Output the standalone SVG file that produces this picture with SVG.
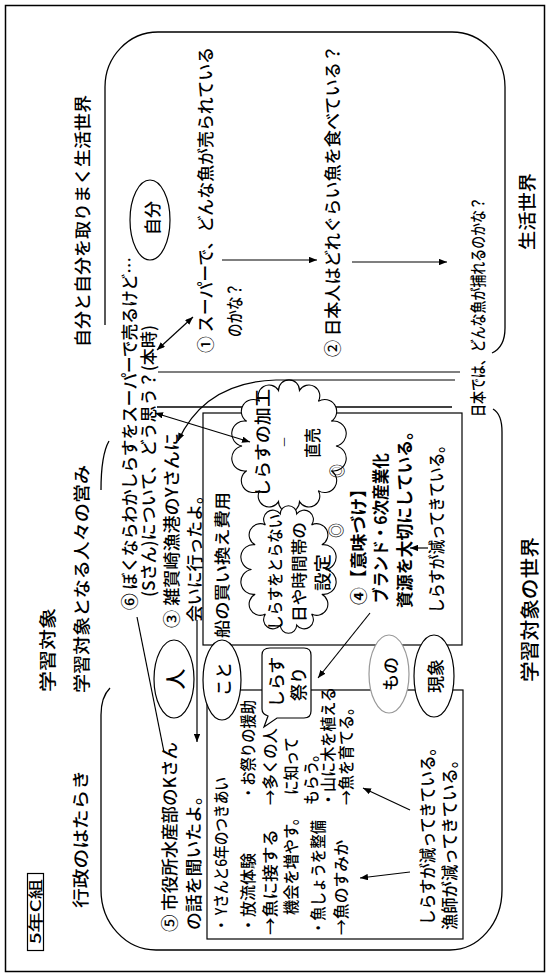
<svg xmlns="http://www.w3.org/2000/svg" width="548" height="975" viewBox="0 0 548 975">
<defs>
<style>
.t{font-family:"Noto Sans CJK JP","Noto Sans",sans-serif;font-size:17px;font-weight:500;fill:#000}
.b{font-weight:bold}
.s14{font-size:16px}
.s13{font-size:14.5px}
.s16{font-size:18px}
.s17{font-size:19px}
.s19{font-size:21px}
.c{text-anchor:middle;dominant-baseline:central}
.ln{fill:none;stroke:#000;stroke-width:1.2}
.fr{fill:none;stroke:#000;stroke-width:1.3}
.el{fill:#fff;stroke:#000;stroke-width:1.2}
.cl{fill:#fff;stroke:#000;stroke-width:1.1}
</style>
<marker id="ah" viewBox="0 0 10 8" markerWidth="8" markerHeight="6.4" refX="10" refY="4" orient="auto-start-reverse" markerUnits="userSpaceOnUse"><path d="M0,0 L10,4 L0,8 z" fill="#000"/></marker>
</defs>
<rect x="0" y="0" width="548" height="975" fill="#fff"/>
<g id="frames">
<rect x="5.5" y="5.5" width="539" height="966" fill="none" stroke="#000" stroke-width="1.5"/>
<path class="fr" d="M105,325 V87 A53,55 0 0 1 158,32 H452 A53,55 0 0 1 505,87 V328 Q505,347 492,353"/>
<path class="ln" d="M158,372 H460"/>
<path class="fr" d="M110,688 Q101,697 101,715 V890 A55,60 0 0 0 156,950 H450 A52,60 0 0 0 502,890 V432 Q502,414 493,409"/>
<path class="fr" d="M157,407 H452"/>
<path class="fr" d="M109,441 Q101,455 101,490"/>
<rect class="ln" x="203" y="413" width="259" height="232"/>
<rect class="ln" x="207" y="690" width="256" height="249"/>
</g>
<g id="labels">
<rect x="27.5" y="873.5" width="16" height="77" fill="none" stroke="#000" stroke-width="1.2"/>
<text class="t s13" transform="translate(41,944) rotate(-90)" textLength="65" lengthAdjust="spacingAndGlyphs">5年C組</text>
<text class="t" transform="translate(87,908) rotate(-90)" textLength="138" lengthAdjust="spacingAndGlyphs">行政のはたらき</text>
<text class="t" transform="translate(54,692) rotate(-90)" textLength="84" lengthAdjust="spacingAndGlyphs">学習対象</text>
<text class="t" transform="translate(88,693) rotate(-90)" textLength="228" lengthAdjust="spacingAndGlyphs">学習対象となる人々の営み</text>
<text class="t" transform="translate(89,347) rotate(-90)" textLength="252" lengthAdjust="spacingAndGlyphs">自分と自分を取りまく生活世界</text>
<text class="t s16" transform="translate(534,250) rotate(-90)" textLength="77" lengthAdjust="spacingAndGlyphs">生活世界</text>
<text class="t s17" transform="translate(537,682) rotate(-90)" textLength="145" lengthAdjust="spacingAndGlyphs">学習対象の世界</text>
</g>
<g id="life-world">
<text class="t" transform="translate(212,353) rotate(-90)" textLength="306" lengthAdjust="spacingAndGlyphs">① スーパーで、どんな魚が売られている</text>
<text class="t" transform="translate(241,337) rotate(-90)" textLength="54" lengthAdjust="spacingAndGlyphs">のかな？</text>
<text class="t" transform="translate(339,357) rotate(-90)" textLength="312" lengthAdjust="spacingAndGlyphs">② 日本人はどれぐらい魚を食べている？</text>
<text class="t s14" transform="translate(484,417) rotate(-90)" textLength="220" lengthAdjust="spacingAndGlyphs">日本では、どんな魚が捕れるのかな？</text>
</g>
<g id="node-jibun">
<ellipse class="el" cx="150" cy="220" rx="20" ry="40"/>
<text class="t c" transform="translate(151,218) rotate(-90)">自分</text>
</g>
<g id="q6">
<text class="t" transform="translate(136,610) rotate(-90)" textLength="353" lengthAdjust="spacingAndGlyphs">⑥ ぼくならわかしらすをスーパーで売るけど…</text>
<text class="t" transform="translate(155,597) rotate(-90)" textLength="272" lengthAdjust="spacingAndGlyphs">(Sさん)について、どう思う？(本時)</text>
</g>
<g id="q3">
<text class="t" transform="translate(178,628) rotate(-90)" textLength="195" lengthAdjust="spacingAndGlyphs">③ 雑賀崎漁港のYさんに</text>
<text class="t" transform="translate(201,622) rotate(-90)" textLength="135" lengthAdjust="spacingAndGlyphs">会いに行ったよ。</text>
</g>
<g id="upper-box-text">
<text class="t s14" transform="translate(228,638) rotate(-90)" textLength="146" lengthAdjust="spacingAndGlyphs">船の買い換え費用</text>
<text class="t b" transform="translate(365,605) rotate(-90)" textLength="125" lengthAdjust="spacingAndGlyphs">④【意味づけ】</text>
<text class="t b" transform="translate(387,603) rotate(-90)" textLength="150" lengthAdjust="spacingAndGlyphs">ブランド・6次産業化</text>
<text class="t b" transform="translate(411,608) rotate(-90)" textLength="185" lengthAdjust="spacingAndGlyphs">資源を大切にしている。</text>
<text class="t" transform="translate(443,613) rotate(-90)" textLength="175" lengthAdjust="spacingAndGlyphs">しらすが減ってきている。</text>
</g>
<g id="cloud-kakou">
<path class="cl" d="M336,446 A1,1 0 0 1 331.3,470.7 A1,1 0 0 1 318.3,490.6 A1,1 0 0 1 299.5,501.6 A1,1 0 0 1 278.5,501.6 A1,1 0 0 1 259.7,490.6 A1,1 0 0 1 246.7,470.7 A1,1 0 0 1 242,446 A1,1 0 0 1 246.7,421.3 A1,1 0 0 1 259.7,401.4 A1,1 0 0 1 278.5,390.4 A1,1 0 0 1 299.5,390.4 A1,1 0 0 1 318.3,401.4 A1,1 0 0 1 331.3,421.3 A1,1 0 0 1 336,446 Z"/>
<text class="t" transform="translate(269,497) rotate(-90)" textLength="108" lengthAdjust="spacingAndGlyphs">しらすの加工</text>
<text class="t" transform="translate(291,447) rotate(-90)" textLength="10" lengthAdjust="spacingAndGlyphs">―</text>
<text class="t" transform="translate(319,458) rotate(-90)" textLength="30" lengthAdjust="spacingAndGlyphs">直売</text>
<text class="t s14" transform="translate(343,478) rotate(-90)" textLength="14" lengthAdjust="spacingAndGlyphs">◎</text>
</g>
<g id="cloud-settei">
<path class="cl" d="M325.5,569.5 A1,1 0 0 1 321.8,594.2 A1,1 0 0 1 311.6,614.1 A1,1 0 0 1 296.7,625.1 A1,1 0 0 1 280.3,625.1 A1,1 0 0 1 265.4,614.1 A1,1 0 0 1 255.2,594.2 A1,1 0 0 1 251.5,569.5 A1,1 0 0 1 255.2,544.8 A1,1 0 0 1 265.4,524.9 A1,1 0 0 1 280.3,513.9 A1,1 0 0 1 296.7,513.9 A1,1 0 0 1 311.6,524.9 A1,1 0 0 1 321.8,544.8 A1,1 0 0 1 325.5,569.5 Z"/>
<text class="t s14" transform="translate(281,630) rotate(-90)" textLength="116" lengthAdjust="spacingAndGlyphs">しらすをとらない</text>
<text class="t s14" transform="translate(305,622) rotate(-90)" textLength="100" lengthAdjust="spacingAndGlyphs">日や時間帯の</text>
<text class="t" transform="translate(329,591) rotate(-90)" textLength="37" lengthAdjust="spacingAndGlyphs">設定</text>
<text class="t s14" transform="translate(342,538) rotate(-90)" textLength="15" lengthAdjust="spacingAndGlyphs">◎</text>
</g>
<g id="node-hito">
<ellipse class="el" cx="174" cy="679" rx="20" ry="39"/>
<text class="t s19 c" transform="translate(174,679) rotate(-90)">人</text>
</g>
<g id="node-koto">
<ellipse class="el" cx="222" cy="680" rx="19" ry="40"/>
<text class="t c" transform="translate(222,679) rotate(-90)">こと</text>
</g>
<g id="node-matsuri">
<path class="el" d="M270,648 H304 Q311,648 311,655 V711 Q311,718 304,718 H277 L264,727 L268,716 Q262,714 262,709 V655 Q262,648 270,648 Z"/>
<text class="t c" transform="translate(275,682) rotate(-90)">しらす</text>
<text class="t c" transform="translate(297,684) rotate(-90)">祭り</text>
</g>
<g id="node-mono">
<ellipse cx="389" cy="674" rx="20" ry="39" fill="#fff" stroke="#999" stroke-width="1.2"/>
<text class="t c" transform="translate(389,674) rotate(-90)">もの</text>
</g>
<g id="node-gensho">
<ellipse class="el" cx="434" cy="676" rx="20" ry="41"/>
<text class="t c" transform="translate(434,676) rotate(-90)">現象</text>
</g>
<g id="q5">
<text class="t" transform="translate(176,932) rotate(-90)" textLength="190" lengthAdjust="spacingAndGlyphs">⑤ 市役所水産部のKさん</text>
<text class="t" transform="translate(200,930) rotate(-90)" textLength="143" lengthAdjust="spacingAndGlyphs">の話を聞いたよ。</text>
</g>
<g id="lower-box-text">
<text class="t s14" transform="translate(227,932) rotate(-90)" textLength="155" lengthAdjust="spacingAndGlyphs">・ Yさんと6年のつきあい</text>
<text class="t s14" transform="translate(254,933) rotate(-90)" textLength="80" lengthAdjust="spacingAndGlyphs">・放流体験</text>
<text class="t s14" transform="translate(254,800) rotate(-90)" textLength="100" lengthAdjust="spacingAndGlyphs">・お祭りの援助</text>
<text class="t s14" transform="translate(276,935) rotate(-90)" textLength="106" lengthAdjust="spacingAndGlyphs">→魚に接する</text>
<text class="t s14" transform="translate(276,805) rotate(-90)" textLength="77" lengthAdjust="spacingAndGlyphs">→多くの人</text>
<text class="t s14" transform="translate(297,915) rotate(-90)" textLength="105" lengthAdjust="spacingAndGlyphs">機会を増やす。</text>
<text class="t s14" transform="translate(297,795) rotate(-90)" textLength="58" lengthAdjust="spacingAndGlyphs">に知って</text>
<text class="t s14" transform="translate(317,805) rotate(-90)" textLength="58" lengthAdjust="spacingAndGlyphs">もらう。</text>
<text class="t s14" transform="translate(324,935) rotate(-90)" textLength="115" lengthAdjust="spacingAndGlyphs">・魚しょうを整備</text>
<text class="t s14" transform="translate(334,807) rotate(-90)" textLength="120" lengthAdjust="spacingAndGlyphs">・山に木を植える</text>
<text class="t s14" transform="translate(347,935) rotate(-90)" textLength="95" lengthAdjust="spacingAndGlyphs">→魚のすみか</text>
<text class="t s14" transform="translate(352,805) rotate(-90)" textLength="105" lengthAdjust="spacingAndGlyphs">→魚を育てる。</text>
<text class="t" transform="translate(434,925) rotate(-90)" textLength="185" lengthAdjust="spacingAndGlyphs">しらすが減ってきている。</text>
<text class="t" transform="translate(456,930) rotate(-90)" textLength="178" lengthAdjust="spacingAndGlyphs">漁師が減ってきている。</text>
</g>
<g id="connectors" class="ln">
<path d="M222,260 H317" marker-end="url(#ah)"/>
<path d="M352,262 H447" marker-end="url(#ah)"/>
<path d="M157,350 L193,317" marker-start="url(#ah)" marker-end="url(#ah)"/>
<path d="M155,413 L250,442" marker-start="url(#ah)" marker-end="url(#ah)"/>
<path d="M455,380 H276 Q205,382 178,441" marker-end="url(#ah)"/>
<path d="M137,617 L164,752"/>
<path d="M197,620 V742" marker-end="url(#ah)"/>
<path d="M370,613 L318,678" marker-end="url(#ah)"/>
<path d="M428,548 H410" marker-end="url(#ah)"/>
<path d="M410,810 L363,788" marker-end="url(#ah)"/>
<path d="M410,872 L360,878" marker-end="url(#ah)"/>
</g>
</svg>
